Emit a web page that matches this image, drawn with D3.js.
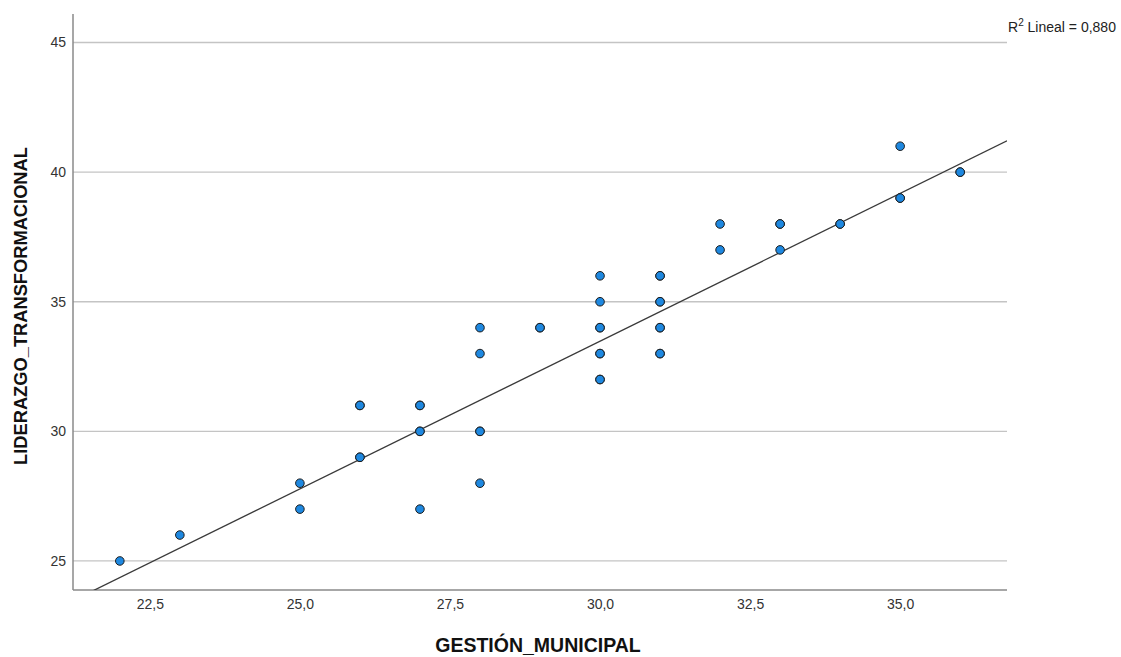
<!DOCTYPE html>
<html><head><meta charset="utf-8">
<script src="https://cdn.jsdelivr.net/npm/d3@7"></script>
<style>body{margin:0;background:#fff;} text{font-family:"Liberation Sans",Arial,sans-serif;}</style>
</head><body><svg id="c" width="1121" height="657"></svg>
<script>
// Data (duplicates appear as darker points)
const gestion = [22,23,25,25,26,26,26,26,27,27,27,27,27,28,28,28,28,28,29,29,30,30,30,30,30,30,30,30,31,31,31,31,31,31,31,31,32,32,33,33,33,34,34,35,35,35,36,36];
const liderazgo = [25,26,28,27,31,31,29,29,31,31,30,30,27,34,33,30,30,28,34,34,36,35,34,34,33,33,32,32,36,36,35,35,34,34,33,33,38,37,38,38,37,38,38,41,39,39,40,40];
const xTicks = [22.5,25,27.5,30,32.5,35];
const yTicks = [25,30,35,40,45];
const fit = {intercept: -0.72, slope: 1.14};
const r2Label = "0,880";

const svg = d3.select("#c");
const L=73,R=1007,T=14,B=590;
const x = d3.scaleLinear().domain([21.22,36.78]).range([L,R]);
const y = d3.scaleLinear().domain([23.88,46.1]).range([B,T]);

// gridlines
svg.append("g").selectAll("line").data(yTicks).join("line")
  .attr("x1",L).attr("x2",R).attr("y1",d=>y(d)).attr("y2",d=>y(d))
  .attr("stroke","#c4c4c4").attr("stroke-width",1.3);

// axes
const fmt = d=>d3.format(".1f")(d).replace(".",",");
const xa = svg.append("g").attr("transform",`translate(0,${B})`)
  .call(d3.axisBottom(x).tickValues(xTicks).tickSize(0).tickPadding(9).tickFormat(fmt));
const ya = svg.append("g").attr("transform",`translate(${L},0)`)
  .call(d3.axisLeft(y).tickValues(yTicks).tickSize(0).tickPadding(7).tickFormat(d3.format("d")));
[xa,ya].forEach(g=>{
  g.select(".domain").attr("stroke","#8a8a8a").attr("stroke-width",1.5);
  g.selectAll("text").attr("fill","#333").attr("font-size",14).style("font-family","'Liberation Sans',Arial,sans-serif");
});
ya.select(".domain").attr("d",`M0,${T}V${B}`);
xa.select(".domain").attr("d",`M${L},0H${R}`);

// fit line
const defs = svg.append("defs");
defs.append("clipPath").attr("id","clip").append("rect").attr("x",L).attr("y",T).attr("width",R-L).attr("height",B-T);
const xd = x.domain();
svg.append("line").attr("clip-path","url(#clip)")
  .attr("x1",x(xd[0])).attr("y1",y(fit.intercept+fit.slope*xd[0]))
  .attr("x2",x(xd[1])).attr("y2",y(fit.intercept+fit.slope*xd[1]))
  .attr("stroke","#3a3a3a").attr("stroke-width",1.3);

// points
svg.append("g").selectAll("circle").data(gestion.map((g,i)=>[g,liderazgo[i]])).join("circle")
  .attr("cx",d=>x(d[0])).attr("cy",d=>y(d[1])).attr("r",4.3)
  .attr("fill","#1e88e0").attr("stroke","#1c1c1c").attr("stroke-width",1);

// titles
svg.append("text").attr("x",538).attr("y",652).attr("text-anchor","middle")
  .attr("font-size",19.5).attr("font-weight","bold").attr("fill","#111").text("GESTIÓN_MUNICIPAL");
svg.append("text").attr("transform","translate(27,306) rotate(-90)").attr("text-anchor","middle")
  .attr("font-size",18.3).attr("font-weight","bold").attr("fill","#111").text("LIDERAZGO_TRANSFORMACIONAL");

const rt = svg.append("text").attr("x",1008).attr("y",32).attr("font-size",14).attr("fill","#222");
rt.append("tspan").text("R");
rt.append("tspan").attr("dy",-6).attr("font-size",10).text("2");
rt.append("tspan").attr("dy",6).text(" Lineal = "+r2Label);
</script></body></html>
